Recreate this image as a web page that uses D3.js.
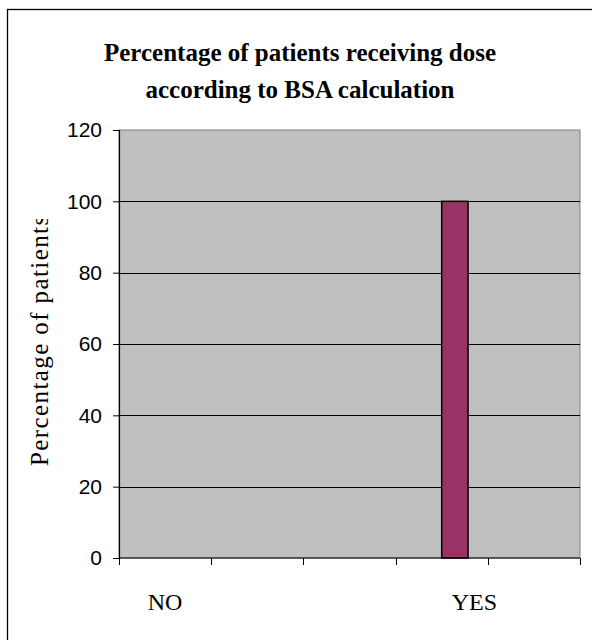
<!DOCTYPE html>
<html>
<head>
<meta charset="utf-8">
<script src="https://cdn.jsdelivr.net/npm/d3@7"></script>
<style>
  html, body { margin: 0; padding: 0; background: #ffffff; }
  svg { display: block; }
</style>
</head>
<body>
<div id="chart"></div>
<script>
// ---- data ----
const categories = [1, 2, 3, 4, 5];
const seriesNames = ["NO", "YES"];
const percentNo  = [null, null, null, 0, null];
const percentYes = [null, null, null, 100, null];
const yTicks = [0, 20, 40, 60, 80, 100, 120];
const titleLines = ["Percentage of patients receiving dose", "according to BSA calculation"];
const yAxisTitle = "Percentage of patients";
const xLabels = ["NO", "YES"];

// ---- layout ----
const W = 592, H = 640;
const plot = { left: 119, right: 580, top: 130, bottom: 558 };
const xLabelFrac = [0.1, 0.771];   // horizontal placement of the category captions

const svg = d3.select("#chart").append("svg")
  .attr("width", W).attr("height", H);

// outer frame
svg.append("rect")
  .attr("x", 7.5).attr("y", 9.5)
  .attr("width", 700).attr("height", 700)
  .attr("fill", "#fff").attr("stroke", "#000").attr("stroke-width", 1.3);

// title
svg.append("g").selectAll("text")
  .data(titleLines).join("text")
  .attr("x", 300)
  .attr("y", (d, i) => 61 + i * 37)
  .attr("text-anchor", "middle")
  .attr("font-family", "'Liberation Serif', 'Times New Roman', serif")
  .attr("font-weight", "bold")
  .attr("font-size", 25)
  .attr("fill", "#000")
  .text(d => d);

// scales
const x = d3.scaleBand().domain(categories)
  .range([plot.left, plot.right]).padding(0);
const xs = d3.scaleBand().domain(seriesNames)
  .range([0, x.bandwidth()]).paddingInner(0).paddingOuter(0.75);
const y = d3.scaleLinear().domain([0, 120]).range([plot.bottom, plot.top]);

// plot background
svg.append("rect")
  .attr("x", plot.left).attr("y", plot.top)
  .attr("width", plot.right - plot.left).attr("height", plot.bottom - plot.top)
  .attr("fill", "#c0c0c0")
  .attr("stroke", "#808080").attr("stroke-width", 1);

// horizontal gridlines
svg.append("g").selectAll("line")
  .data(yTicks.filter(t => t > 0 && t < 120)).join("line")
  .attr("x1", plot.left).attr("x2", plot.right)
  .attr("y1", d => Math.round(y(d)) + 0.5).attr("y2", d => Math.round(y(d)) + 0.5)
  .attr("stroke", "#000").attr("stroke-width", 1);

// bars
const barData = [];
categories.forEach((c, i) => {
  [[seriesNames[0], percentNo[i]], [seriesNames[1], percentYes[i]]].forEach(([s, v]) => {
    if (v !== null) barData.push({ c, s, v });
  });
});
svg.append("g").selectAll("rect")
  .data(barData.filter(d => d.v > 0)).join("rect")
  .attr("x", d => x(d.c) + xs(d.s))
  .attr("y", d => y(d.v))
  .attr("width", xs.bandwidth())
  .attr("height", d => y(0) - y(d.v))
  .attr("fill", "#993366")
  .attr("stroke", "#000").attr("stroke-width", 1.5);

// y axis
const yAxis = svg.append("g")
  .attr("transform", `translate(${plot.left},0)`)
  .call(d3.axisLeft(y).tickValues(yTicks).tickSize(6).tickPadding(11));
yAxis.select(".domain").attr("stroke", "#000").attr("stroke-width", 1.2);
yAxis.selectAll(".tick line").attr("stroke", "#000");
yAxis.selectAll(".tick text")
  .attr("font-family", "'Liberation Sans', Arial, sans-serif")
  .attr("font-size", 21).attr("fill", "#000");

// x axis (category boundaries)
const xAxis = svg.append("g")
  .attr("transform", `translate(0,${plot.bottom})`);
xAxis.append("line")
  .attr("x1", plot.left).attr("x2", plot.right)
  .attr("y1", 0).attr("y2", 0)
  .attr("stroke", "#000").attr("stroke-width", 1.2);
const bounds = categories.map(c => x(c)).concat([x(categories[categories.length - 1]) + x.bandwidth()]);
xAxis.selectAll("line.tick")
  .data(bounds).join("line").attr("class", "tick")
  .attr("x1", d => Math.round(d) + 0.5).attr("x2", d => Math.round(d) + 0.5)
  .attr("y1", 0).attr("y2", 7)
  .attr("stroke", "#000");

// category captions
svg.append("g").selectAll("text")
  .data(xLabels).join("text")
  .attr("x", (d, i) => plot.left + xLabelFrac[i] * (plot.right - plot.left))
  .attr("y", 610)
  .attr("text-anchor", "middle")
  .attr("font-family", "'Liberation Serif', 'Times New Roman', serif")
  .attr("font-size", 24)
  .attr("fill", "#000")
  .text(d => d);

// y axis title, clipped at its top like a fixed-size text box
svg.append("clipPath").attr("id", "ytitle-clip")
  .append("rect").attr("x", 0).attr("y", 219).attr("width", 110).attr("height", 400);
svg.append("g").attr("clip-path", "url(#ytitle-clip)")
  .append("text")
  .attr("transform", "translate(48,466) rotate(-90)")
  .attr("text-anchor", "start")
  .attr("font-family", "'Liberation Serif', 'Times New Roman', serif")
  .attr("font-size", 25)
  .attr("letter-spacing", 1.4)
  .attr("fill", "#000")
  .text(yAxisTitle);
</script>
</body>
</html>
